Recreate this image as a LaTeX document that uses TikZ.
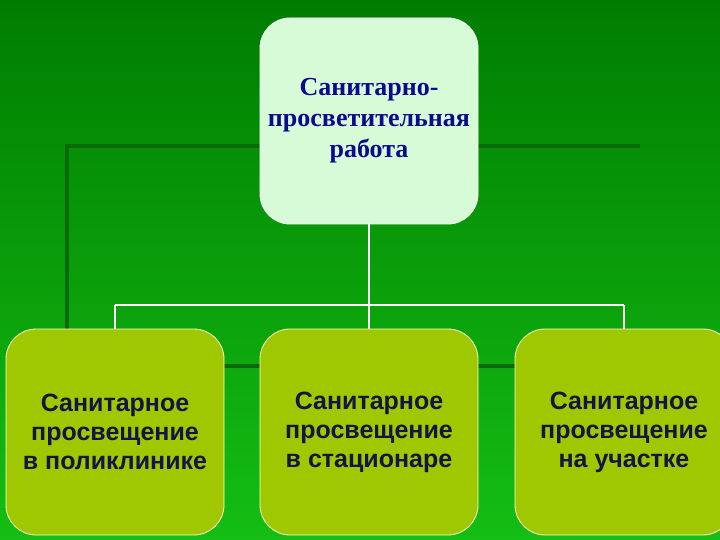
\documentclass[tikz,border=0pt]{standalone}
\usepackage{fontspec}
\setmainfont{Liberation Serif}
\setsansfont{Liberation Sans}
\definecolor{bgtop}{RGB}{0,125,0}
\definecolor{bgbot}{RGB}{20,190,20}
\definecolor{frame}{RGB}{10,105,10}
\definecolor{lowfill}{RGB}{160,200,0}
\definecolor{lowtext}{RGB}{20,20,70}
\definecolor{topfill}{RGB}{215,250,215}
\definecolor{toptext}{RGB}{10,10,140}
\begin{document}
\begin{tikzpicture}[x=1pt,y=-1pt,
  topbox/.style={draw=white,line width=0.8pt,fill=topfill,rounded corners=30pt,minimum width=218pt,minimum height=206pt,text=toptext,font=\rmfamily\bfseries\fontsize{26}{31}\selectfont,align=center},
  lowbox/.style={draw=white!80!yellow,line width=0.8pt,fill=lowfill,rounded corners=30pt,minimum width=218pt,minimum height=206pt,text=lowtext,font=\sffamily\bfseries\fontsize{25}{29}\selectfont,align=center},
  link/.style={white,line width=1.8pt}]
\useasboundingbox (0,0) rectangle (720,540);
\shade[top color=bgtop,bottom color=bgbot] (0,0) rectangle (720,540);
\draw[frame,line width=4pt] (640,146) -- (67,146) -- (67,366) -- (640,366);
\node[topbox] (t) at (369,121) {Санитарно-\\просветительная\\работа};
\coordinate (j) at (369,305);
\coordinate (l) at (115,305);
\coordinate (r) at (624,305);
\node[lowbox] (a) at (115,432) {Санитарное\\просвещение\\в поликлинике};
\node[lowbox] (b) at (369,432) {Санитарное\\просвещение\\в стационаре};
\node[lowbox] (c) at (624,432) {Санитарное\\просвещение\\на участке};
\draw[link] (t.south) -- (j);
\draw[link] (l) -- (r);
\draw[link] (l) -- (a.north);
\draw[link] (j) -- (b.north);
\draw[link] (r) -- (c.north);
\end{tikzpicture}
\end{document}
